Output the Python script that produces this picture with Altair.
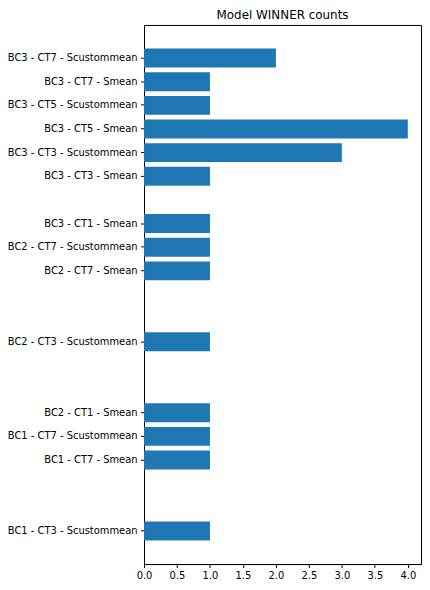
import altair as alt
import pandas as pd

# slots from top to bottom (empty slots have zero count and no label)
categories = [
    "BC3 - CT7 - Scustommean", "BC3 - CT7 - Smean", "BC3 - CT5 - Scustommean",
    "BC3 - CT5 - Smean", "BC3 - CT3 - Scustommean", "BC3 - CT3 - Smean",
    "BC3 - CT1 - Scustommean", "BC3 - CT1 - Smean", "BC2 - CT7 - Scustommean",
    "BC2 - CT7 - Smean", "BC2 - CT5 - Scustommean", "BC2 - CT5 - Smean",
    "BC2 - CT3 - Scustommean", "BC2 - CT3 - Smean", "BC2 - CT1 - Scustommean",
    "BC2 - CT1 - Smean", "BC1 - CT7 - Scustommean", "BC1 - CT7 - Smean",
    "BC1 - CT5 - Scustommean", "BC1 - CT5 - Smean", "BC1 - CT3 - Scustommean",
]
counts = [2, 1, 1, 4, 3, 1, 0, 1, 1, 1, 0, 0, 1, 0, 0, 1, 1, 1, 0, 0, 1]
x_ticks = [0.0, 0.5, 1.0, 1.5, 2.0, 2.5, 3.0, 3.5, 4.0]

df = pd.DataFrame({"model": categories, "count": counts})
shown = [c for c, n in zip(categories, counts) if n > 0]
df = df[df["count"] > 0]

font = "DejaVu Sans"

chart = alt.Chart(df).mark_bar(color="#1f77b4").encode(
    x=alt.X("count:Q",
            scale=alt.Scale(domain=[0, 4.2], nice=False, zero=True),
            axis=alt.Axis(values=x_ticks, format=".1f", title=None, grid=False,
                          tickSize=3.5, labelPadding=3.5, domainColor="black",
                          tickColor="black", labelColor="black", labelFontSize=10,
                          labelFont=font, labelFlush=False)),
    y=alt.Y("model:N",
            scale=alt.Scale(domain=categories, paddingInner=0.2, paddingOuter=1),
            sort=None,
            axis=alt.Axis(values=shown, title=None, grid=False, tickSize=3.5,
                          labelPadding=3.5, domainColor="black", tickColor="black",
                          labelColor="black", labelFontSize=10, labelFont=font,
                          labelLimit=0)),
).properties(
    width=279,
    height=543,
    title=alt.TitleParams("Model WINNER counts", font=font, fontSize=12,
                          fontWeight="normal", color="black", offset=3),
    autosize=alt.AutoSizeParams(type="none"),
    padding={"left": 137, "top": 15, "right": 1, "bottom": 16},
).configure_view(
    stroke="black", strokeWidth=1
)

chart.save("out.html", embed_options={"renderer": "svg", "actions": False})
